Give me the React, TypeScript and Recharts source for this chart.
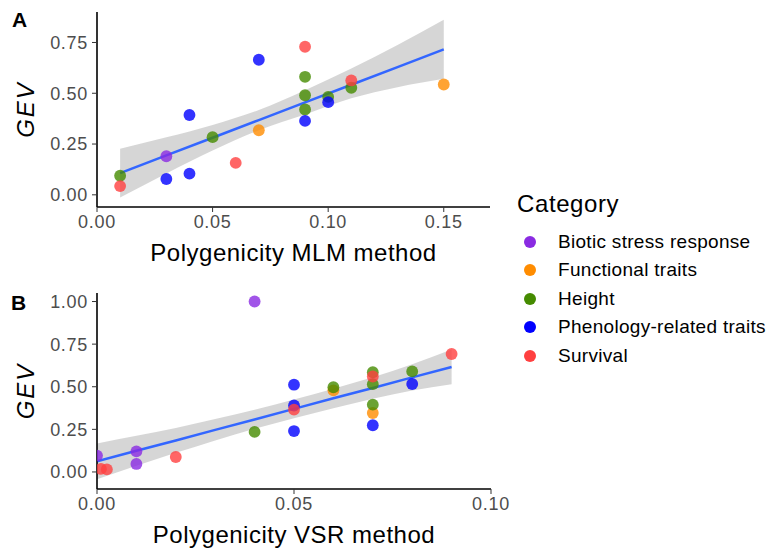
import { Area, ComposedChart, Legend, Line, Scatter, XAxis, YAxis, ZAxis } from "recharts";

const categories = ["Biotic stress response", "Functional traits", "Height", "Phenology-related traits", "Survival"];
const colors = ["#8A2BE2", "#FF8C00", "#458B00", "#0000FF", "#FF4040"];

// panel A: polygenicity (MLM) vs GEV, one list per category, [x, y]
const mlmBiotic = [[0.03, 0.19]];
const mlmFunctional = [[0.07, 0.318], [0.15, 0.543]];
const mlmHeight = [[0.01, 0.094], [0.05, 0.284], [0.09, 0.581], [0.09, 0.49], [0.09, 0.42], [0.1, 0.482], [0.11, 0.527]];
const mlmPhenology = [[0.03, 0.078], [0.04, 0.393], [0.04, 0.104], [0.07, 0.665], [0.09, 0.364], [0.1, 0.456]];
const mlmSurvival = [[0.01, 0.043], [0.06, 0.157], [0.09, 0.729], [0.11, 0.563]];

// panel A smoother (lm fit + 95% band)
const mlmFitX = [0.01, 0.03, 0.05, 0.07, 0.09, 0.11, 0.13, 0.15];
const mlmFit = [0.107, 0.194, 0.281, 0.368, 0.455, 0.542, 0.629, 0.716];
const mlmLow = [-0.013, 0.105, 0.218, 0.318, 0.395, 0.475, 0.53, 0.571];
const mlmHigh = [0.227, 0.283, 0.344, 0.418, 0.515, 0.622, 0.738, 0.862];

// panel B: polygenicity (VSR) vs GEV
const vsrBiotic = [[0, 0.096], [0.01, 0.121], [0.01, 0.047], [0.04, 1.0]];
const vsrFunctional = [[0.06, 0.479], [0.07, 0.346]];
const vsrHeight = [[0.04, 0.235], [0.06, 0.497], [0.07, 0.585], [0.07, 0.515], [0.07, 0.395], [0.08, 0.59]];
const vsrPhenology = [[0.05, 0.512], [0.05, 0.39], [0.05, 0.24], [0.07, 0.274], [0.08, 0.516]];
const vsrSurvival = [[0.001, 0.018], [0.0025, 0.015], [0.02, 0.088], [0.05, 0.366], [0.07, 0.56], [0.09, 0.692]];

const vsrFitX = [0, 0.01, 0.02, 0.03, 0.04, 0.05, 0.06, 0.07, 0.08, 0.09];
const vsrFit = [0.062, 0.124, 0.185, 0.247, 0.308, 0.37, 0.432, 0.493, 0.555, 0.616];
const vsrLow = [-0.043, 0.036, 0.112, 0.185, 0.253, 0.315, 0.374, 0.43, 0.478, 0.514];
const vsrHigh = [0.167, 0.212, 0.258, 0.31, 0.365, 0.425, 0.488, 0.555, 0.632, 0.718];

const mlmTicks = [0, 0.05, 0.1, 0.15];
const vsrTicks = [0, 0.05, 0.1];
const gevTicksA = [0, 0.25, 0.5, 0.75];
const gevTicksB = [0, 0.25, 0.5, 0.75, 1];

const FONT = "'Liberation Sans', Arial, Helvetica, sans-serif";
const pts = (a: number[][]) => a.map(([x, y]) => ({ x, y }));

const GevLabel = ({ viewBox }: any) => {
  const cy = viewBox.y + viewBox.height / 2;
  return (
    <text x={25} y={cy} transform={`rotate(-90, 25, ${cy})`} textAnchor="middle" dominantBaseline="central"
      fontStyle="italic" fontSize={24} letterSpacing={2} fill="#000">GEV</text>
  );
};

const CategoryLegend = () => (
  <div style={{ fontFamily: FONT, color: "#000" }}>
    <div style={{ fontSize: 24, lineHeight: "28px", letterSpacing: 0.6 }}>Category</div>
    <div style={{ marginTop: 10 }}>
      {categories.map((c, i) => (
        <div key={c} style={{ display: "flex", alignItems: "center", height: 28.5 }}>
          <svg width={24} height={14}><circle cx={13} cy={7} r={6} fill={colors[i]} /></svg>
          <span style={{ marginLeft: 17, fontSize: 19, letterSpacing: 0.3, whiteSpace: "nowrap" }}>{c}</span>
        </div>
      ))}
    </div>
  </div>
);

function Panel({ top, height, margin, xDomain, xTicks, yDomain, yTicks, xTitle, groups, fitX, fit, low, high, legend }: any) {
  const rows = fitX.map((x: number, i: number) => ({ x, fit: fit[i], band: [low[i], high[i]] }));
  const tickStyle = { fontSize: 18, fill: "#4d4d4d", letterSpacing: 0.7 };
  return (
    <div style={{ position: "absolute", left: 0, top }}>
      <ComposedChart width={774} height={height} data={rows} margin={margin}>
        <XAxis type="number" dataKey="x" domain={xDomain} ticks={xTicks} allowDataOverflow
          tickFormatter={(v: number) => v.toFixed(2)} height={60}
          tick={tickStyle} tickSize={5} tickMargin={3}
          axisLine={{ stroke: "#000", strokeWidth: 1.6 }} tickLine={{ stroke: "#333" }}
          label={{ value: xTitle, position: "insideBottom", offset: 6, fontSize: 24, letterSpacing: 0.5, fill: "#000" }} />
        <YAxis type="number" domain={yDomain} ticks={yTicks} allowDataOverflow width={97}
          tickFormatter={(v: number) => v.toFixed(2)}
          tick={tickStyle} tickSize={5} tickMargin={4}
          axisLine={{ stroke: "#000", strokeWidth: 1.6 }} tickLine={{ stroke: "#333" }}
          label={<GevLabel />} />
        <ZAxis type="number" range={[110, 110]} />
        {groups.map((g: number[][], i: number) => (
          <Scatter key={categories[i]} name={categories[i]} data={pts(g)} dataKey="y"
            fill={colors[i]} fillOpacity={0.8} isAnimationActive={false} />
        ))}
        <Area type="monotone" dataKey="band" stroke="none" fill="#999999" fillOpacity={0.4}
          isAnimationActive={false} legendType="none" />
        <Line type="linear" dataKey="fit" stroke="#3366FF" strokeWidth={2.5} dot={false}
          isAnimationActive={false} legendType="none" />
        {legend && (
          <Legend layout="vertical" align="center" verticalAlign="middle" content={<CategoryLegend />}
            wrapperStyle={{ left: 517, top: 189.5, width: "auto" }} />
        )}
      </ComposedChart>
    </div>
  );
}

export default function App() {
  return (
    <div style={{ position: "absolute", left: 0, top: 0, width: 774, height: 556, background: "#fff", fontFamily: FONT }}>
      <Panel top={0} height={280} margin={{ top: 12, right: 284, left: 0, bottom: 13 }}
        xDomain={[0, 0.17]} xTicks={mlmTicks} yDomain={[-0.06, 0.9]} yTicks={gevTicksA}
        xTitle="Polygenicity MLM method"
        groups={[mlmBiotic, mlmFunctional, mlmHeight, mlmPhenology, mlmSurvival]}
        fitX={mlmFitX} fit={mlmFit} low={mlmLow} high={mlmHigh} legend />
      <Panel top={280} height={276} margin={{ top: 13, right: 283, left: 0, bottom: 7 }}
        xDomain={[0, 0.1]} xTicks={vsrTicks} yDomain={[-0.1, 1.05]} yTicks={gevTicksB}
        xTitle="Polygenicity VSR method"
        groups={[vsrBiotic, vsrFunctional, vsrHeight, vsrPhenology, vsrSurvival]}
        fitX={vsrFitX} fit={vsrFit} low={vsrLow} high={vsrHigh} />
      <div style={{ position: "absolute", left: 12, top: 9, fontSize: 21, fontWeight: "bold", lineHeight: 1 }}>A</div>
      <div style={{ position: "absolute", left: 11, top: 292, fontSize: 21, fontWeight: "bold", lineHeight: 1 }}>B</div>
    </div>
  );
}
